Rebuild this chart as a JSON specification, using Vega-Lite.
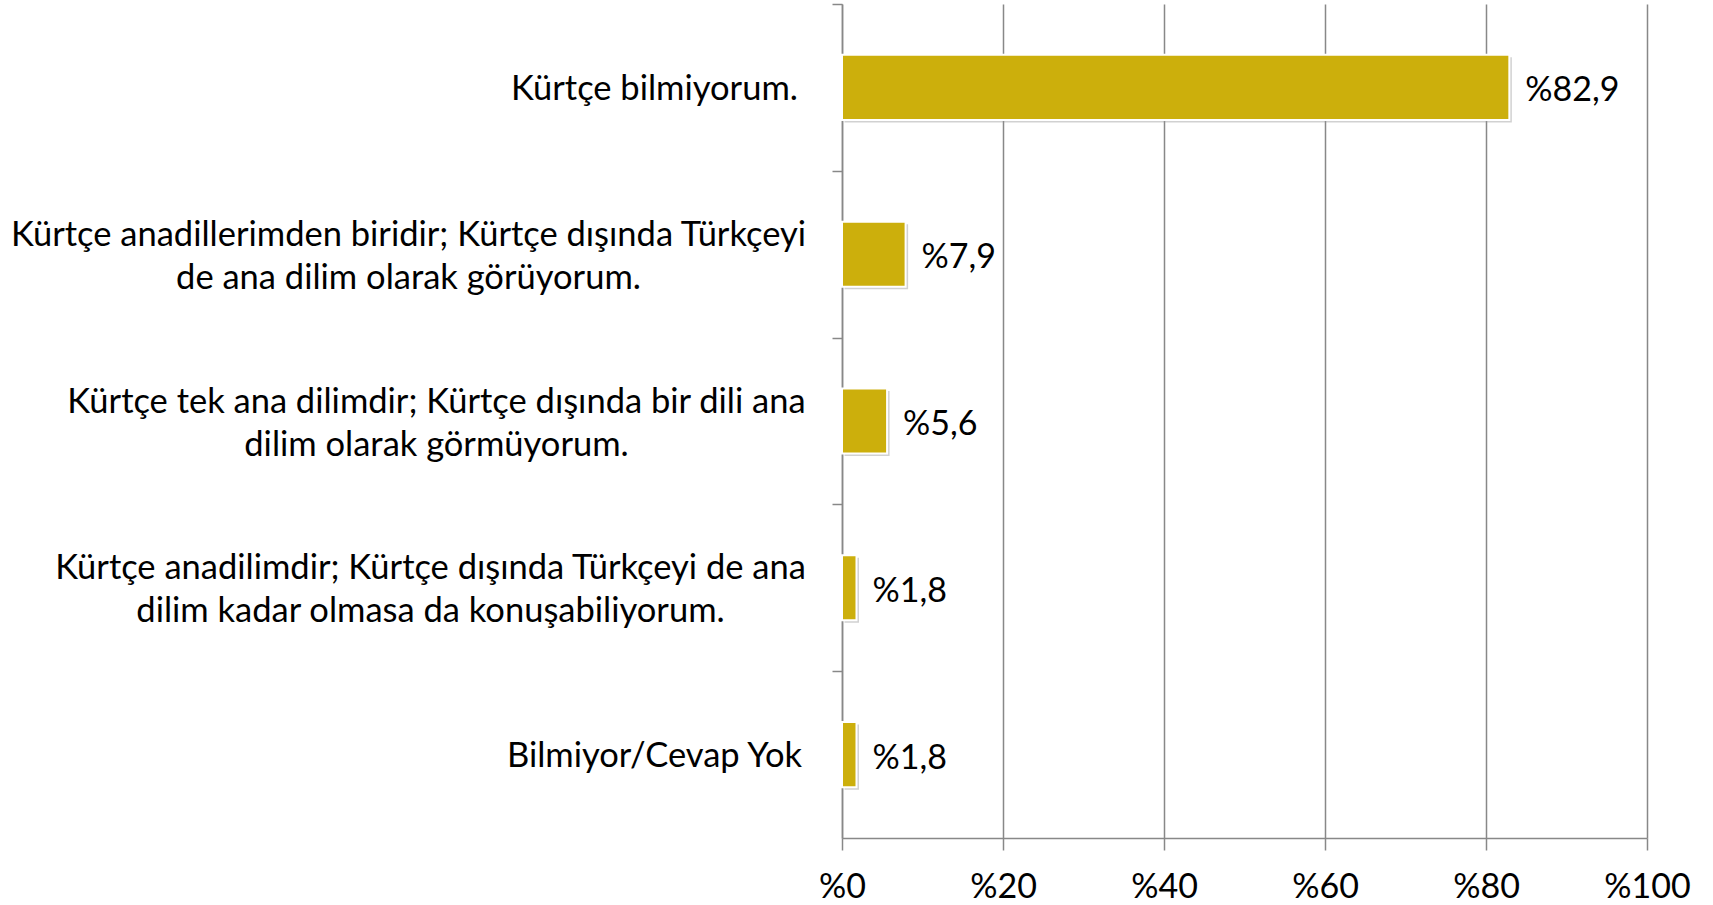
{
  "$schema": "https://vega.github.io/schema/vega-lite/v6.json",
  "autosize": {"type": "none"},
  "width": 805,
  "height": 834,
  "padding": {"left": 842, "top": 4, "right": 66, "bottom": 67},
  "background": "white",
  "config": {
    "view": {"stroke": null},
    "locale": {
      "number": {"decimal": ",", "thousands": ".", "grouping": [3], "currency": ["%", ""]}
    },
    "font": "Lato"
  },
  "data": {
    "values": [
      {"category": "Kürtçe bilmiyorum.", "value": 82.9},
      {"category": "Kürtçe anadillerimden biridir; Kürtçe dışında Türkçeyi|de ana dilim olarak görüyorum.", "value": 7.9},
      {"category": "Kürtçe tek ana dilimdir; Kürtçe dışında bir dili ana|dilim olarak görmüyorum.", "value": 5.6},
      {"category": "Kürtçe anadilimdir; Kürtçe dışında Türkçeyi de ana|dilim kadar olmasa da konuşabiliyorum.", "value": 1.8},
      {"category": "Bilmiyor/Cevap Yok", "value": 1.8}
    ]
  },
  "encoding": {
    "y": {
      "field": "category",
      "type": "nominal",
      "sort": null,
      "title": null,
      "scale": {"paddingInner": 0.61, "paddingOuter": 0.305},
      "axis": {
        "labelExpr": "split(datum.value, '|')",
        "labelFont": "Lato",
        "labelFontSize": 34.5,
        "labelColor": "#000000",
        "labelLineHeight": 43,
        "labelPadding": {
          "condition": [
            {"test": "indexof(datum.value, 'Kürtçe bilmiyorum') >= 0", "value": 178},
            {"test": "indexof(datum.value, 'anadillerimden') >= 0", "value": 424},
            {"test": "indexof(datum.value, 'tek ana') >= 0", "value": 396},
            {"test": "indexof(datum.value, 'anadilimdir') >= 0", "value": 402}
          ],
          "value": 178
        },
        "labelLimit": 900,
        "labelAlign": "center",
        "tickOffset": -83.4,
        "labelOffset": {
          "condition": {"test": "indexof(datum.value, '|') >= 0", "value": 64.4},
          "value": 85.4
        },
        "tickSize": 10,
        "tickColor": "#888888",
        "tickWidth": 1.5,
        "domainColor": "#888888",
        "domainWidth": 1.5,
        "grid": false
      }
    },
    "x": {
      "field": "value",
      "type": "quantitative",
      "title": null,
      "scale": {"domain": [0, 100], "nice": false},
      "axis": {
        "values": [0, 20, 40, 60, 80, 100],
        "format": "$d",
        "labelFont": "Lato",
        "labelFontSize": 34,
        "labelColor": "#000000",
        "labelFlush": false,
        "labelPadding": 20,
        "tickSize": 12,
        "tickColor": "#888888",
        "tickWidth": 1.5,
        "domainColor": "#888888",
        "domainWidth": 1.5,
        "grid": true,
        "gridColor": "#888888",
        "gridWidth": 1.5
      }
    }
  },
  "layer": [
    {
      "mark": {"type": "bar", "color": "#9a9a9a", "opacity": 0.45, "xOffset": 2.5, "x2Offset": 2.5, "yOffset": 2.5, "y2Offset": 2.5}
    },
    {
      "mark": {"type": "bar", "color": "#CCAF0C", "stroke": "white", "strokeWidth": 2}
    },
    {
      "mark": {"type": "text", "align": "left", "baseline": "middle", "dx": 16, "dy": 4, "fontSize": 34, "font": "Lato", "color": "#000000"},
      "encoding": {
        "text": {"field": "value", "type": "quantitative", "format": "$.1f"}
      }
    }
  ]
}
